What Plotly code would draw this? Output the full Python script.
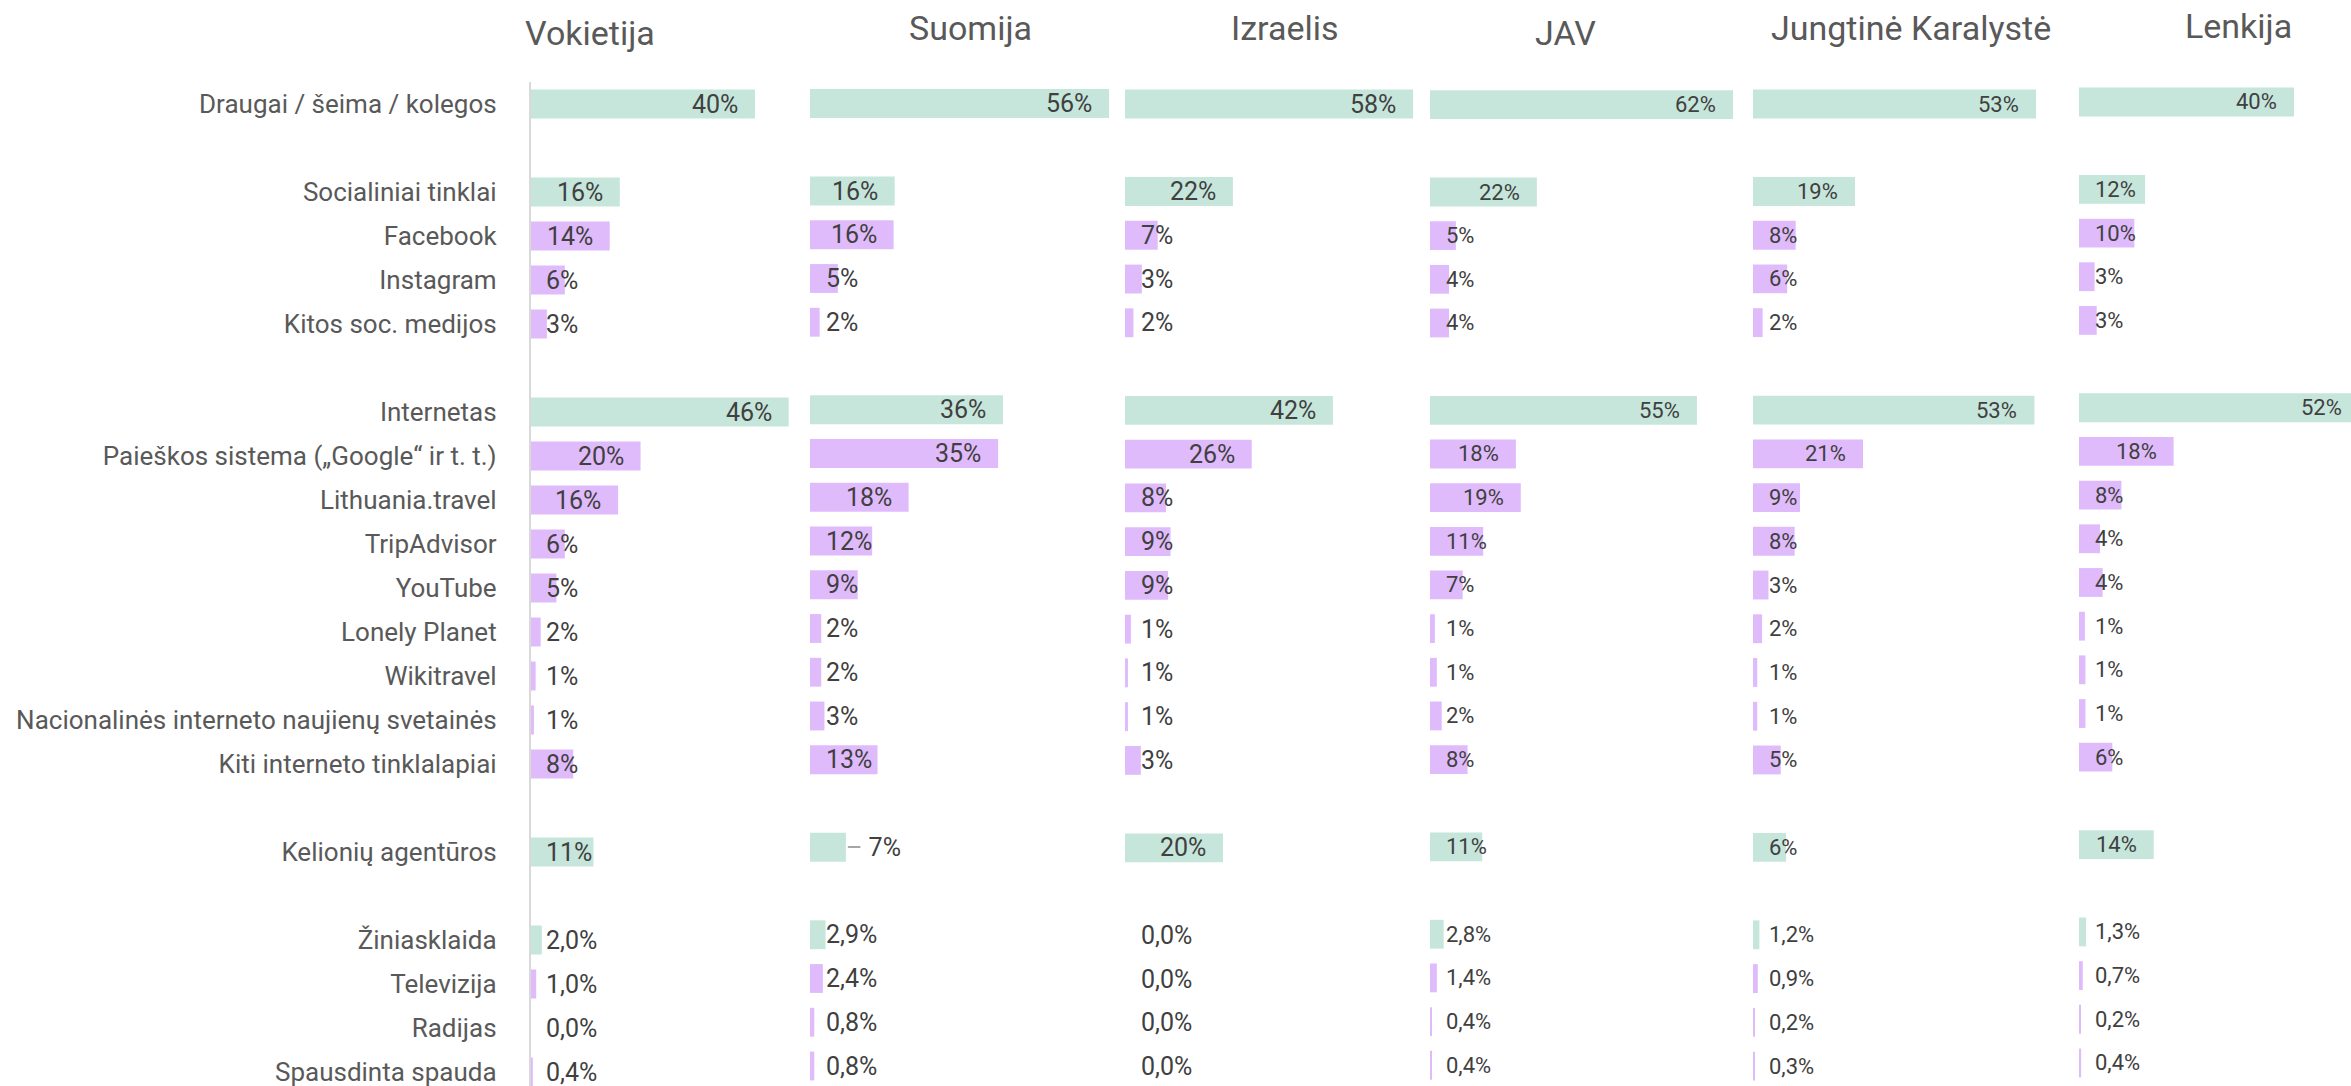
import plotly.graph_objects as go

# ---------------- DATA ----------------
categories = [
    "Draugai / šeima / kolegos",
    "Socialiniai tinklai",
    "Facebook",
    "Instagram",
    "Kitos soc. medijos",
    "Internetas",
    "Paieškos sistema („Google“ ir t. t.)",
    "Lithuania.travel",
    "TripAdvisor",
    "YouTube",
    "Lonely Planet",
    "Wikitravel",
    "Nacionalinės interneto naujienų svetainės",
    "Kiti interneto tinklalapiai",
    "Kelionių agentūros",
    "Žiniasklaida",
    "Televizija",
    "Radijas",
    "Spausdinta spauda",
]

countries = ["Vokietija", "Suomija", "Izraelis", "JAV", "Jungtinė Karalystė", "Lenkija"]

vokietija = [40, 15.9, 14.1, 6.1, 2.9, 46, 19.6, 15.6, 6.1, 4.6, 1.8, 0.9, 0.6, 7.6, 11.2, 2.0, 1.0, 0.0, 0.4]
suomija   = [55.8, 15.8, 15.6, 5.2, 1.8, 36.0, 35.1, 18.4, 11.6, 8.9, 2.1, 2.1, 2.7, 12.6, 6.7, 2.9, 2.4, 0.8, 0.8]
izraelis  = [58.2, 21.8, 6.6, 3.4, 1.7, 42.0, 25.6, 8.3, 9.2, 8.7, 1.2, 0.6, 0.6, 3.2, 19.8, 0.0, 0.0, 0.0, 0.0]
jav       = [62.1, 21.9, 5.3, 3.9, 3.9, 54.7, 17.6, 18.6, 10.9, 6.7, 1.0, 1.4, 2.4, 7.7, 10.7, 2.8, 1.4, 0.4, 0.4]
jk        = [53.0, 19.1, 8.0, 6.4, 1.8, 52.7, 20.6, 8.8, 7.8, 2.9, 1.7, 0.8, 0.8, 5.2, 6.2, 1.2, 0.9, 0.2, 0.3]
lenkija   = [40.0, 12.3, 10.3, 2.9, 3.3, 52.0, 17.6, 7.9, 3.9, 4.4, 1.1, 1.2, 1.2, 6.2, 13.9, 1.3, 0.7, 0.2, 0.4]

series = [vokietija, suomija, izraelis, jav, jk, lenkija]

main_categories = ["Draugai / šeima / kolegos", "Socialiniai tinklai", "Internetas",
                   "Kelionių agentūros", "Žiniasklaida"]
media_categories = ["Žiniasklaida", "Televizija", "Radijas", "Spausdinta spauda"]
leader_labels = [("Suomija", "Kelionių agentūros")]

# ---------------- LAYOUT / STYLE ----------------
W, H = 2351, 1086
FONT = "Roboto"
GREEN = "#C6E6DB"
PURPLE = "#E0BBFC"
LABEL_COLOR = "#404040"
TEXT_GRAY = "#595959"

# spacer rows in the category axis
SP = [" ", "  ", "   ", "    "]
category_order = ([categories[0], SP[0]] + categories[1:5] + [SP[1]] + categories[5:14]
                  + [SP[2], categories[14], SP[3]] + categories[15:19])

# per panel: (baseline px, px per %, right end px)
PANEL_X = [(530.6, 5.61, 800), (810, 5.36, 1115), (1125, 4.95, 1420),
           (1430, 4.88, 1745), (1753, 5.34, 2070), (2079, 5.375, 2351)]
# per panel: (first row centre px, row pitch px)
PANEL_Y = [(104, 44.0), (103.5, 43.75), (104, 43.76), (104.7, 43.66), (104, 43.73), (102, 43.68)]
TITLE_POS = [(590, 33), (970, 28), (1285, 28), (1565, 33), (1911, 28), (2238, 26)]
LABEL_SIZE = [25, 25, 25, 22, 22, 22]
PAD_END = 17
PAD_BASE = 15.5


def fmt(cat, v):
    if cat in media_categories:
        return f"{v:.1f}".replace(".", ",") + "%"
    return f"{v:.0f}%"


def text_width(txt, size):
    w = 0
    for ch in txt:
        if ch.isdigit():
            w += 0.562
        elif ch == "%":
            w += 0.733
        elif ch == ",":
            w += 0.197
        else:
            w += 0.5
    return w * size


fig = go.Figure()
annotations = []

for i, (country, vals) in enumerate(zip(countries, series)):
    sfx = "" if i == 0 else str(i + 1)
    xref, yref = "x" + sfx, "y" + sfx
    base, s, xend = PANEL_X[i]
    row0, pitch = PANEL_Y[i]
    rng = (xend - base) / s

    colors = [GREEN if c in main_categories else PURPLE for c in categories]
    fig.add_trace(go.Bar(
        x=vals, y=categories, orientation="h",
        marker=dict(color=colors, line=dict(width=0)),
        xaxis=xref, yaxis=yref, hoverinfo="skip", showlegend=False,
    ))

    top_px = row0 - pitch / 2
    fig.layout["xaxis" + sfx] = dict(
        domain=[base / W, xend / W], range=[0, rng], anchor=yref,
        showgrid=False, zeroline=False, showticklabels=False, showline=False, ticks="",
    )
    fig.layout["yaxis" + sfx] = dict(
        domain=[0, 1 - top_px / H], anchor=xref, type="category",
        categoryorder="array", categoryarray=category_order,
        range=[-0.5 + (H - top_px) / pitch, -0.5],
        showgrid=False, zeroline=False, ticks="",
        showticklabels=(i == 0), showline=(i == 0),
        linecolor="#D9D9D9", linewidth=1.5,
        tickfont=dict(family=FONT, size=26, color=TEXT_GRAY),
        ticklabelstandoff=27,
    )

    fsize = LABEL_SIZE[i]
    for cat, v in zip(categories, vals):
        txt = fmt(cat, v)
        tw = text_width(txt, fsize)
        if (country, cat) in leader_labels:
            annotations.append(dict(
                x=v, y=cat, xref=xref, yref=yref, xanchor="left", yanchor="middle",
                text="<span style='color:#A6A6A6'>–</span> " + txt, showarrow=False,
                borderpad=0, borderwidth=0,
                font=dict(family=FONT, size=fsize, color=LABEL_COLOR)))
        elif v * s - PAD_END - tw >= PAD_BASE:
            annotations.append(dict(
                x=v - PAD_END / s, y=cat, xref=xref, yref=yref, xanchor="right", yanchor="middle",
                text=txt, showarrow=False, borderpad=0, borderwidth=0,
                font=dict(family=FONT, size=fsize, color=LABEL_COLOR)))
        else:
            annotations.append(dict(
                x=PAD_BASE / s, y=cat, xref=xref, yref=yref, xanchor="left", yanchor="middle",
                text=txt, showarrow=False, borderpad=0, borderwidth=0,
                font=dict(family=FONT, size=fsize, color=LABEL_COLOR)))

    cx, cy = TITLE_POS[i]
    annotations.append(dict(
        x=cx / W, y=1 - cy / H, xref="paper", yref="paper", xanchor="center", yanchor="middle",
        text=country, showarrow=False, borderpad=0, borderwidth=0,
        font=dict(family=FONT, size=34, color=TEXT_GRAY)))

fig.update_layout(
    width=W, height=H,
    margin=dict(l=0, r=0, t=0, b=0),
    paper_bgcolor="white", plot_bgcolor="rgba(0,0,0,0)",
    bargap=0.34, showlegend=False,
    annotations=annotations,
    font=dict(family=FONT, color=TEXT_GRAY),
)

fig.write_html("out.html", config={"displayModeBar": False},
               post_script="document.body.style.margin='0';")
